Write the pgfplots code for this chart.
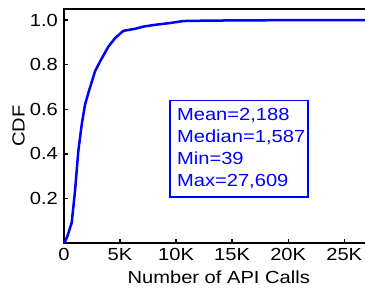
\documentclass[border=0pt]{standalone}
\usepackage{fontspec}
\setmainfont{Liberation Sans}[FakeStretch=1.15]
\usepackage{pgfplots}
\pgfplotsset{compat=1.18}
\definecolor{cdfblue}{RGB}{0,0,255}
\begin{document}
\begin{tikzpicture}[font=\fontsize{17.5}{22}\selectfont]
\begin{axis}[
  at={(0,0)}, anchor=south west,
  scale only axis,
  width=309.5pt, height=234pt,
  xmin=0, xmax=27609,
  ymin=0, ymax=1.05,
  axis line style={line width=1.6pt},
  tick style={line width=1.4pt, black},
  major tick length=4pt,
  tick align=inside,
  tick pos=left,
  xtick={0,5000,10000,15000,20000,25000},
  xticklabels={0,5K,10K,15K,20K,25K},
  ytick={0.2,0.4,0.6,0.8,1.0},
  yticklabels={0.2,0.4,0.6,0.8,1.0},
  scaled x ticks=false,
  /pgf/number format/assume math mode=true,
  xticklabel style={inner sep=0pt, anchor=north, yshift=-5pt},
  yticklabel style={inner sep=0pt, anchor=east, xshift=-6pt},
  xlabel={Number of API Calls},
  ylabel={CDF},
  every axis x label/.style={at={(axis description cs:0.5,-0.1722)}, anchor=base, inner sep=0pt},
  every axis y label/.style={at={(axis description cs:-0.126,0.5)}, rotate=90, anchor=south, inner sep=0pt},
  clip=false,
]
\addplot[cdfblue, line width=2.5pt, line join=round] coordinates {
(39,0) (300,0.03) (687,0.091) (981,0.233) (1276,0.412) (1579,0.531)
(1873,0.62) (2170,0.673) (2765,0.77) (3211,0.814) (3955,0.881)
(4550,0.919) (5290,0.952) (6334,0.961) (7074,0.971) (8118,0.979)
(9304,0.986) (10640,0.996) (13000,0.998) (16000,0.999) (20000,1.0) (27609,1.0)
};
\node[draw=cdfblue, line width=1.6pt, text=cdfblue, anchor=north west,
  align=left, inner xsep=7pt, inner ysep=8pt, text width=124pt]
  at (axis cs:9393,0.643) {Mean=2,188\\Median=1,587\\Min=39\\Max=27,609};
\end{axis}
\pgfresetboundingbox
\useasboundingbox (-64pt,-47pt) rectangle (301pt,243pt);
\end{tikzpicture}
\end{document}
